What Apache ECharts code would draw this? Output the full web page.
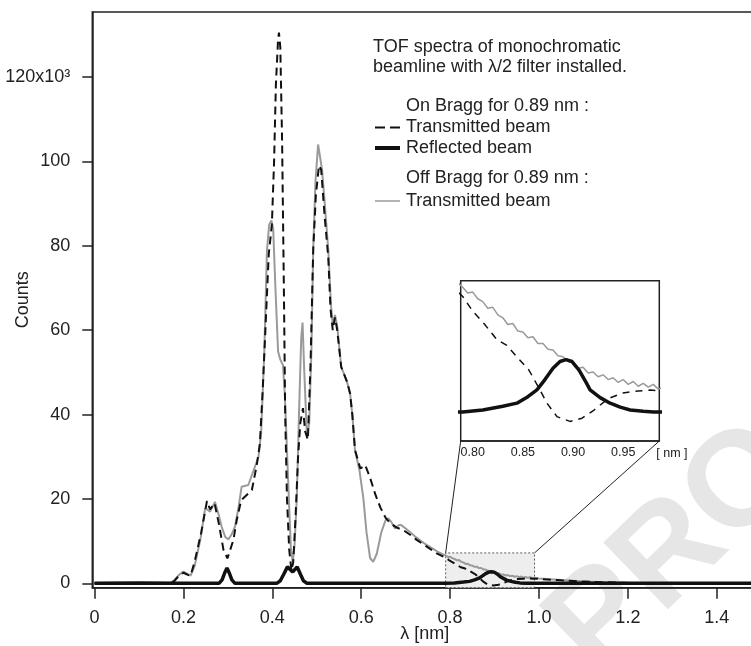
<!DOCTYPE html>
<html><head><meta charset="utf-8">
<script src="https://cdn.jsdelivr.net/npm/echarts@6/dist/echarts.min.js"></script>
<style>html,body{margin:0;padding:0;background:#fff}#c{width:751px;height:646px}</style>
</head><body><div id="c"></div>
<script>
// ---- data: [lambda (nm), counts (x10^3)] ----
const offBraggTransmitted = [[0,0],[0.17,0],[0.18,0.8],[0.19,2],[0.2,2.8],[0.21,2.2],[0.216,1.8],[0.225,4],[0.238,10.3],[0.249,17.8],[0.26,17],[0.271,19.3],[0.28,16],[0.286,13.4],[0.294,11],[0.301,10.4],[0.308,11.5],[0.316,13.4],[0.324,18],[0.331,22.9],[0.346,23.3],[0.358,26.8],[0.369,30],[0.375,36],[0.382,55],[0.388,79],[0.393,85],[0.398,86],[0.402,84],[0.407,70],[0.413,55],[0.418,53],[0.424,51.7],[0.428,45],[0.433,31.6],[0.438,18],[0.442,8],[0.446,5],[0.45,9],[0.455,20],[0.46,40],[0.465,58],[0.468,61.8],[0.472,50],[0.478,34.7],[0.483,38],[0.488,55],[0.492,79],[0.497,95],[0.503,104],[0.507,104.3],[0.512,98],[0.518,90],[0.526,79],[0.532,66],[0.536,61],[0.541,63.6],[0.546,61],[0.555,51.3],[0.568,47.8],[0.575,45],[0.58,40],[0.586,31.6],[0.596,26.8],[0.605,20],[0.612,12],[0.62,6],[0.627,5.1],[0.635,7],[0.645,12],[0.655,15],[0.661,15.4],[0.668,14.5],[0.676,13],[0.685,13.8],[0.69,13.8],[0.7,13],[0.72,11.2],[0.74,9.6],[0.76,8.3],[0.775,7.3],[0.79,6.55],[0.795,6.25],[0.8,6.3],[0.805,5.95],[0.81,5.8],[0.815,5.45],[0.82,5.5],[0.825,5.1],[0.83,4.95],[0.835,4.6],[0.84,4.65],[0.845,4.25],[0.85,4.2],[0.855,3.9],[0.86,3.95],[0.865,3.6],[0.87,3.6],[0.875,3.3],[0.88,3.25],[0.885,2.95],[0.89,2.9],[0.895,2.65],[0.9,2.6],[0.905,2.3],[0.91,2.35],[0.915,2.05],[0.92,2.1],[0.925,1.85],[0.93,1.95],[0.935,1.7],[0.94,1.8],[0.945,1.55],[0.95,1.7],[0.955,1.45],[0.96,1.6],[0.965,1.35],[0.97,1.5],[0.975,1.3],[0.98,1.45],[0.985,1.2],[0.99,1.3],[1.0,1.15],[1.05,0.8],[1.1,0.45],[1.15,0.25],[1.2,0.12],[1.3,0.05],[1.49,0]];

const onBraggTransmitted = [[0,0],[0.17,0],[0.18,0.6],[0.19,1.8],[0.2,2.5],[0.21,2],[0.216,1.8],[0.225,5],[0.24,12],[0.253,19.5],[0.26,17.5],[0.27,19],[0.28,14],[0.29,8],[0.299,5.9],[0.3125,10.3],[0.32,15],[0.33,19.7],[0.343,21],[0.354,22.1],[0.365,28],[0.372,33],[0.378,45],[0.384,59],[0.392,78],[0.399,85],[0.404,100],[0.408,118],[0.413,129],[0.415,130.5],[0.418,127],[0.422,105],[0.426,70],[0.429,40],[0.433,20],[0.438,8],[0.443,3],[0.447,5],[0.452,15],[0.458,30],[0.463,38],[0.469,41.5],[0.474,36],[0.48,34],[0.486,52],[0.492,79],[0.498,92],[0.505,99],[0.51,98],[0.517,88],[0.526,77],[0.531,65],[0.536,60],[0.541,63],[0.546,60],[0.555,51.3],[0.568,47.8],[0.575,45],[0.58,40],[0.586,31.6],[0.598,27.2],[0.609,28],[0.62,25],[0.632,21],[0.643,18],[0.655,15.5],[0.665,14.3],[0.68,13.2],[0.695,12.6],[0.71,11.5],[0.725,10.3],[0.75,8.5],[0.77,7.1],[0.79,6.07],[0.8,5.3],[0.812,4.6],[0.824,3.8],[0.834,3.5],[0.844,2.9],[0.856,2.2],[0.867,1.16],[0.874,0.46],[0.884,-0.25],[0.897,-0.5],[0.909,-0.33],[0.921,0.1],[0.935,0.7],[0.95,1.0],[0.965,1.1],[0.977,1.15],[0.99,1.1],[1.0,1.05],[1.05,0.7],[1.1,0.4],[1.2,0.1],[1.3,0.05],[1.49,0]];

const onBraggReflected = [[0,0],[0.1,0.05],[0.2,0],[0.28,0],[0.287,0.8],[0.293,2.5],[0.298,3.6],[0.303,2.5],[0.309,0.8],[0.316,0],[0.41,0],[0.418,0.6],[0.426,2.2],[0.434,3.9],[0.44,3.3],[0.446,2.7],[0.451,3.3],[0.456,3.9],[0.463,2.2],[0.47,0.6],[0.478,0],[0.79,0],[0.81,0.1],[0.83,0.3],[0.844,0.46],[0.855,0.8],[0.864,1.16],[0.872,1.7],[0.88,2.3],[0.887,2.65],[0.893,2.75],[0.899,2.65],[0.906,2.2],[0.913,1.55],[0.917,1.16],[0.927,0.75],[0.937,0.46],[0.947,0.25],[0.957,0.1],[0.97,0.03],[0.98,0],[1.49,0]];

const xTicks = [0, 0.2, 0.4, 0.6, 0.8, 1.0, 1.2, 1.4];
const yTicks = [0, 20, 40, 60, 80, 100, 120];
const insetTicks = [0.80, 0.85, 0.90, 0.95];
const zoomBoxX = [0.79, 0.99];
const zoomBoxTop = 7.2;

const FONT = '"Liberation Sans", Arial, sans-serif';
const chart = echarts.init(document.getElementById('c'), null, {renderer: 'canvas'});

const mainX = {min: -0.005, max: 1.4905};
const mainY = {min: -1.04, max: 135.4};
const insetX = {min: 0.788, max: 0.986};
const insetY = {min: -1.53, max: 6.9};

const dashStyle = {color: '#111', width: 2, type: [8, 5]};
const option = {
  animation: false,
  backgroundColor: '#fff',
  grid: [
    {left: 92.3, top: 12, right: -6, bottom: 58.3, show: true, borderColor: '#222', borderWidth: 1.5,
     containLabel: false, outerBoundsMode: 'none'},
    {left: 460.7, top: 280.7, width: 198.6, height: 160.3, show: true, borderColor: '#222', borderWidth: 1.5,
     backgroundColor: '#fff', z: 5, containLabel: false, outerBoundsMode: 'none'}
  ],
  xAxis: [
    {type: 'value', gridIndex: 0, min: mainX.min, max: mainX.max,
     name: 'λ [nm]', nameLocation: 'middle', nameGap: 37, nameMoveOverlap: false,
     nameTextStyle: {fontFamily: FONT, fontSize: 18, color: '#222'},
     axisLine: {show: true, onZero: false, lineStyle: {color: '#222', width: 1.5}},
     axisTick: {show: true, inside: false, length: 11, customValues: xTicks, lineStyle: {color: '#222', width: 1.5}},
     axisLabel: {show: true, margin: 21, customValues: xTicks, fontFamily: FONT, fontSize: 18, color: '#222',
       formatter: v => (v === 0 ? '0' : v.toFixed(1))},
     splitLine: {show: false}},
    {type: 'value', gridIndex: 1, min: insetX.min, max: insetX.max,
     name: '[ nm ]', nameLocation: 'end', nameGap: -3, nameMoveOverlap: false,
     nameTextStyle: {fontFamily: FONT, fontSize: 12.5, color: '#222', verticalAlign: 'top', padding: [6, 0, 0, 0]},
     axisLine: {show: true, onZero: false, lineStyle: {color: '#222', width: 1.5}},
     axisTick: {show: false},
     axisLabel: {show: true, margin: 5, customValues: insetTicks, fontFamily: FONT, fontSize: 12.5, color: '#222',
       formatter: v => v.toFixed(2)},
     splitLine: {show: false}, z: 6}
  ],
  yAxis: [
    {type: 'value', gridIndex: 0, min: mainY.min, max: mainY.max,
     name: 'Counts', nameLocation: 'middle', nameGap: 60, nameRotate: 90, nameMoveOverlap: false,
     nameTextStyle: {fontFamily: FONT, fontSize: 18, color: '#222'},
     axisLine: {show: true, onZero: false, lineStyle: {color: '#222', width: 1.5}},
     axisTick: {show: true, inside: false, length: 10, customValues: yTicks, lineStyle: {color: '#222', width: 1.5}},
     axisLabel: {show: true, margin: 22, customValues: yTicks, fontFamily: FONT, fontSize: 18, color: '#222',
       formatter: v => (v === 120 ? '120x10³' : String(v))},
     splitLine: {show: false}},
    {type: 'value', gridIndex: 1, min: insetY.min, max: insetY.max, show: false}
  ],
  series: [
    {type: 'line', name: 'box', xAxisIndex: 0, yAxisIndex: 0, data: [], z: 1, silent: true,
     markArea: {silent: true,
       itemStyle: {color: '#eeeeee', borderColor: '#333', borderWidth: 0.8, borderType: [2, 2]},
       data: [[{coord: [zoomBoxX[0], mainY.min]}, {coord: [zoomBoxX[1], zoomBoxTop]}]]}},
    {type: 'line', name: 'Off Bragg transmitted', xAxisIndex: 0, yAxisIndex: 0, data: offBraggTransmitted,
     showSymbol: false, lineStyle: {color: '#9a9a9a', width: 2}, z: 2},
    {type: 'line', name: 'On Bragg transmitted', xAxisIndex: 0, yAxisIndex: 0, data: onBraggTransmitted,
     showSymbol: false, lineStyle: dashStyle, z: 3},
    {type: 'line', name: 'On Bragg reflected', xAxisIndex: 0, yAxisIndex: 0, data: onBraggReflected,
     showSymbol: false, lineStyle: {color: '#111', width: 3.5}, z: 4},
    {type: 'line', name: 'inset off', xAxisIndex: 1, yAxisIndex: 1, data: offBraggTransmitted,
     showSymbol: false, lineStyle: {color: '#9a9a9a', width: 1.5}, z: 6},
    {type: 'line', name: 'inset on', xAxisIndex: 1, yAxisIndex: 1, data: onBraggTransmitted,
     showSymbol: false, lineStyle: {color: '#111', width: 1.5, type: [7, 6]}, z: 6},
    {type: 'line', name: 'inset refl', xAxisIndex: 1, yAxisIndex: 1, data: onBraggReflected,
     showSymbol: false, lineStyle: {color: '#111', width: 3.5}, z: 7}
  ]
};
chart.setOption(option);

// annotations: title, legend, connectors, watermark
const txt = (x, y, s, size) => ({type: 'text', x: x, y: y, z: 20,
  style: {text: s, font: (size || 18) + 'px ' + FONT, fill: '#222', textAlign: 'left', textVerticalAlign: 'middle'}});
const seg = (x1, y1, x2, y2, st) => ({type: 'line', z: 20, shape: {x1, y1, x2, y2}, style: st});

const bl = chart.convertToPixel({xAxisIndex: 0, yAxisIndex: 0}, [zoomBoxX[0], zoomBoxTop]);
const br = chart.convertToPixel({xAxisIndex: 0, yAxisIndex: 0}, [zoomBoxX[1], zoomBoxTop]);
const il = chart.convertToPixel({xAxisIndex: 1, yAxisIndex: 1}, [insetX.min, insetY.min]);
const ir = chart.convertToPixel({xAxisIndex: 1, yAxisIndex: 1}, [insetX.max, insetY.min]);

chart.setOption({graphic: [
  {type: 'text', x: 618, y: 700, rotation: 0.77, z: -5, silent: true,
   style: {text: 'PROOF', font: 'bold 135px ' + FONT, fill: '#e6e6e6', textAlign: 'left', textVerticalAlign: 'bottom'}},
  txt(373, 47, 'TOF spectra of monochromatic'),
  txt(373, 67, 'beamline with λ/2 filter installed.'),
  txt(406, 106, 'On Bragg for 0.89 nm :'),
  seg(375, 127.5, 400, 127.5, {stroke: '#111', lineWidth: 2, lineDash: [10, 5]}),
  txt(406, 127.5, 'Transmitted beam'),
  seg(375, 148, 400, 148, {stroke: '#111', lineWidth: 4}),
  txt(406, 148, 'Reflected beam'),
  txt(406, 178, 'Off Bragg for 0.89 nm :'),
  seg(375, 201, 400, 201, {stroke: '#9a9a9a', lineWidth: 1.5}),
  txt(406, 201, 'Transmitted beam'),
  seg(il[0], il[1], bl[0], bl[1], {stroke: '#222', lineWidth: 1}),
  seg(ir[0], ir[1], br[0], br[1], {stroke: '#222', lineWidth: 1})
]});
</script>
</body></html>
